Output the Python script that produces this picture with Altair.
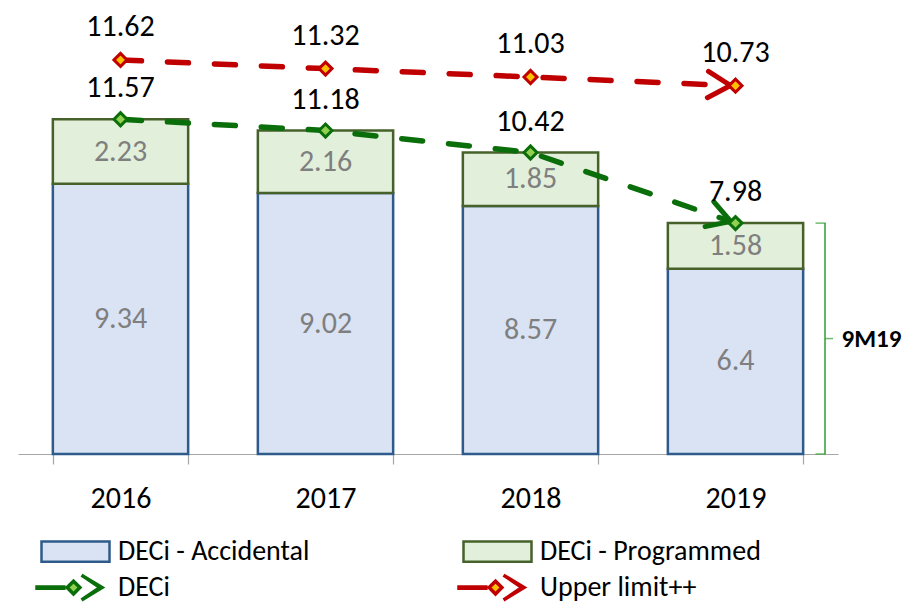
import math
import altair as alt
import pandas as pd

# ---------------- data ----------------
YEARS = ["2016", "2017", "2018", "2019"]
ACCIDENTAL = [9.34, 9.02, 8.57, 6.4]
PROGRAMMED = [2.23, 2.16, 1.85, 1.58]
DECI = [11.57, 11.18, 10.42, 7.98]
UPPER = [11.62, 11.32, 11.03, 10.73]
BAR_SERIES = ["DECi - Accidental", "DECi - Programmed"]
LINE_SERIES = ["DECi", "Upper limit++"]
BRACKET_YEAR = "2019"
BRACKET_LABEL = "9M19"

# ---------------- layout / style ----------------
W, H = 820, 434
Y_MAX = 15
UPPER_SHIFT = 2.0          # upper-limit series sits on a shifted (secondary) scale
FONT = "Calibri, Carlito, Lato, sans-serif"
FS = 30
LEG_FS = 28

ACC_FILL, ACC_STROKE = "#DAE3F3", "#2F5B8C"
PROG_FILL, PROG_STROKE = "#E2EFDA", "#46622A"
GREEN, GREEN_FILL = "#0A6E0A", "#92D050"
RED, GOLD = "#C00000", "#FFC000"
BRACKET_COLOR = "#2F9E2F"

BOX_PATH = "M-1,-0.3H1V0.3H-1Z"
LEG_LINE_PATH = ("M-1,-0.02H-0.2V0.02H-1Z "
                 "M-0.1,0L0.09,-0.19L0.28,0L0.09,0.19Z "
                 "M0.33,-0.37L0.94,0L0.33,0.37L0.88,0Z")
CHEVRON_PATH = "M-1.15,-0.55L-0.21,0L-1.15,0.55"

# ---------------- tables ----------------
bars_df = pd.DataFrame({
    "year": YEARS * 2,
    "series": [BAR_SERIES[0]] * len(YEARS) + [BAR_SERIES[1]] * len(YEARS),
    "value": ACCIDENTAL + PROGRAMMED,
    "order": [0] * len(YEARS) + [1] * len(YEARS),
})
bars_df["label"] = [f"{v:g}" for v in bars_df["value"]]

shift = {LINE_SERIES[0]: 0.0, LINE_SERIES[1]: UPPER_SHIFT}
lines_df = pd.DataFrame({
    "year": YEARS * 2,
    "name": [LINE_SERIES[0]] * len(YEARS) + [LINE_SERIES[1]] * len(YEARS),
    "value": DECI + UPPER,
})
lines_df["plot"] = lines_df["value"] + lines_df["name"].map(shift)
lines_df["label"] = [f"{v:g}" for v in lines_df["value"]]

step = W / len(YEARS)
ppu = H / Y_MAX
rows = []
for name, vals in zip(LINE_SERIES, [DECI, UPPER]):
    ang = math.degrees(math.atan2((vals[-2] - vals[-1]) * ppu, step)) % 360
    rows.append({"year": YEARS[-1], "name": name,
                 "plot": vals[-1] + shift[name], "angle": ang})
chev_df = pd.DataFrame(rows)

bi = YEARS.index(BRACKET_YEAR)
total = ACCIDENTAL[bi] + PROGRAMMED[bi]
bracket_df = pd.DataFrame({"year": [BRACKET_YEAR], "base": [0.0], "total": [total],
                           "mid": [total / 2], "label": [BRACKET_LABEL]})

# ---------------- encodings ----------------
X = alt.X("year:N", sort=YEARS,
          scale=alt.Scale(domain=YEARS, paddingInner=0.34, paddingOuter=0.17),
          axis=alt.Axis(title=None, labelAngle=0, labelFont=FONT, labelFontSize=FS,
                        labelColor="black", domainColor="#A6A6A6", tickColor="#A6A6A6",
                        domainWidth=1.2, tickWidth=1.2, tickSize=10, tickBand="extent",
                        labelPadding=19, grid=False))
YS = alt.Scale(domain=[0, Y_MAX], nice=False, zero=True)


def Y(field):
    return alt.Y(field, scale=YS, axis=None)


bar_fill_scale = alt.Scale(domain=BAR_SERIES, range=[ACC_FILL, PROG_FILL])
bar_stroke_scale = alt.Scale(domain=BAR_SERIES, range=[ACC_STROKE, PROG_STROKE])
line_stroke_scale = alt.Scale(domain=LINE_SERIES, range=[GREEN, RED])
line_fill_scale = alt.Scale(domain=LINE_SERIES, range=[GREEN_FILL, GOLD])

bar_legend = alt.Legend(title=None, orient="none", legendX=22, legendY=496,
                        direction="horizontal", columns=2, columnPadding=148,
                        symbolType=BOX_PATH, symbolSize=4624, symbolStrokeWidth=2.5,
                        labelFont=FONT, labelFontSize=LEG_FS, labelColor="black",
                        labelOffset=7, labelLimit=600, padding=0)
line_legend = alt.Legend(title=None, orient="none", legendX=17, legendY=532,
                         direction="horizontal", columns=2, columnPadding=282,
                         symbolType=LEG_LINE_PATH, symbolSize=4489, symbolStrokeWidth=3.5,
                         labelFont=FONT, labelFontSize=LEG_FS, labelColor="black",
                         labelOffset=12, labelLimit=600, padding=0)

bars = alt.Chart(bars_df).mark_bar(strokeWidth=2.5).encode(
    x=X,
    y=alt.Y("value:Q", stack="zero", scale=YS, axis=None),
    fill=alt.Fill("series:N", scale=bar_fill_scale, legend=bar_legend),
    stroke=alt.Stroke("series:N", scale=bar_stroke_scale, legend=bar_legend),
    order=alt.Order("order:Q"),
)

bar_text = alt.Chart(bars_df).transform_stack(
    stack="value", groupby=["year"], as_=["v0", "v1"],
    sort=[alt.SortField("order", order="ascending")]
).transform_calculate(mid="(datum.v0 + datum.v1) / 2").mark_text(
    font=FONT, fontSize=FS, color="#7F7F7F", baseline="middle"
).encode(x=X, y=Y("mid:Q"), text="label:N")

lines = alt.Chart(lines_df).mark_line(
    strokeWidth=5.5, strokeDash=[21, 26], strokeCap="round", strokeJoin="round"
).encode(
    x=X, y=Y("plot:Q"),
    stroke=alt.Stroke("name:N", scale=line_stroke_scale, legend=None),
    detail="name:N",
)

chevrons = alt.Chart(chev_df).mark_point(
    filled=False, shape=CHEVRON_PATH, size=2304, strokeWidth=5,
    strokeCap="round", strokeJoin="miter", opacity=1
).encode(
    x=X, y=Y("plot:Q"),
    stroke=alt.Stroke("name:N", scale=line_stroke_scale, legend=None),
    angle=alt.Angle("angle:Q", scale=None),
)

markers = alt.Chart(lines_df).mark_point(
    filled=True, size=170, strokeWidth=3, opacity=1
).encode(
    x=X, y=Y("plot:Q"),
    shape=alt.Shape("name:N", scale=alt.Scale(domain=LINE_SERIES, range=["diamond", "diamond"]),
                    legend=None),
    fill=alt.Fill("name:N", scale=line_fill_scale, legend=line_legend),
    stroke=alt.Stroke("name:N", scale=line_stroke_scale, legend=line_legend),
)

deci_labels = alt.Chart(lines_df).transform_filter(
    alt.datum.name == LINE_SERIES[0]
).mark_text(font=FONT, fontSize=FS, color="black", baseline="middle", dy=-31).encode(
    x=X, y=Y("plot:Q"), text="label:N")

upper_labels = alt.Chart(lines_df).transform_filter(
    alt.datum.name == LINE_SERIES[1]
).mark_text(font=FONT, fontSize=FS, color="black", baseline="middle", dy=-33).encode(
    x=X, y=Y("plot:Q"), text="label:N")

br_base = alt.Chart(bracket_df)
br_vert = br_base.mark_rule(color=BRACKET_COLOR, strokeWidth=1.5, xOffset=89.5).encode(
    x=X, y=Y("base:Q"), y2="total:Q")
br_top = br_base.mark_tick(color=BRACKET_COLOR, thickness=1.5, size=10, xOffset=85,
                           orient="horizontal").encode(x=X, y=Y("total:Q"))
br_bot = br_base.mark_tick(color=BRACKET_COLOR, thickness=1.5, size=10, xOffset=85,
                           orient="horizontal").encode(x=X, y=Y("base:Q"))
br_mid = br_base.mark_tick(color=BRACKET_COLOR, thickness=1.5, size=8, xOffset=93.5,
                           orient="horizontal").encode(x=X, y=Y("mid:Q"))
br_text = br_base.mark_text(font=FONT, fontSize=25, fontWeight="bold", color="black",
                            align="left", baseline="middle", xOffset=106).encode(
    x=X, y=Y("mid:Q"), text="label:N")

chart = alt.layer(
    bars, bar_text, lines, chevrons, markers, deci_labels, upper_labels,
    br_vert, br_top, br_bot, br_mid, br_text
).resolve_scale(
    fill="independent", stroke="independent"
).properties(
    width=W, height=H,
    autosize=alt.AutoSizeParams(type="none"),
    padding={"left": 10, "top": 12, "right": 66, "bottom": 149},
).configure_view(stroke=None)

chart.save("out.html", embed_options={"renderer": "svg", "actions": False})
